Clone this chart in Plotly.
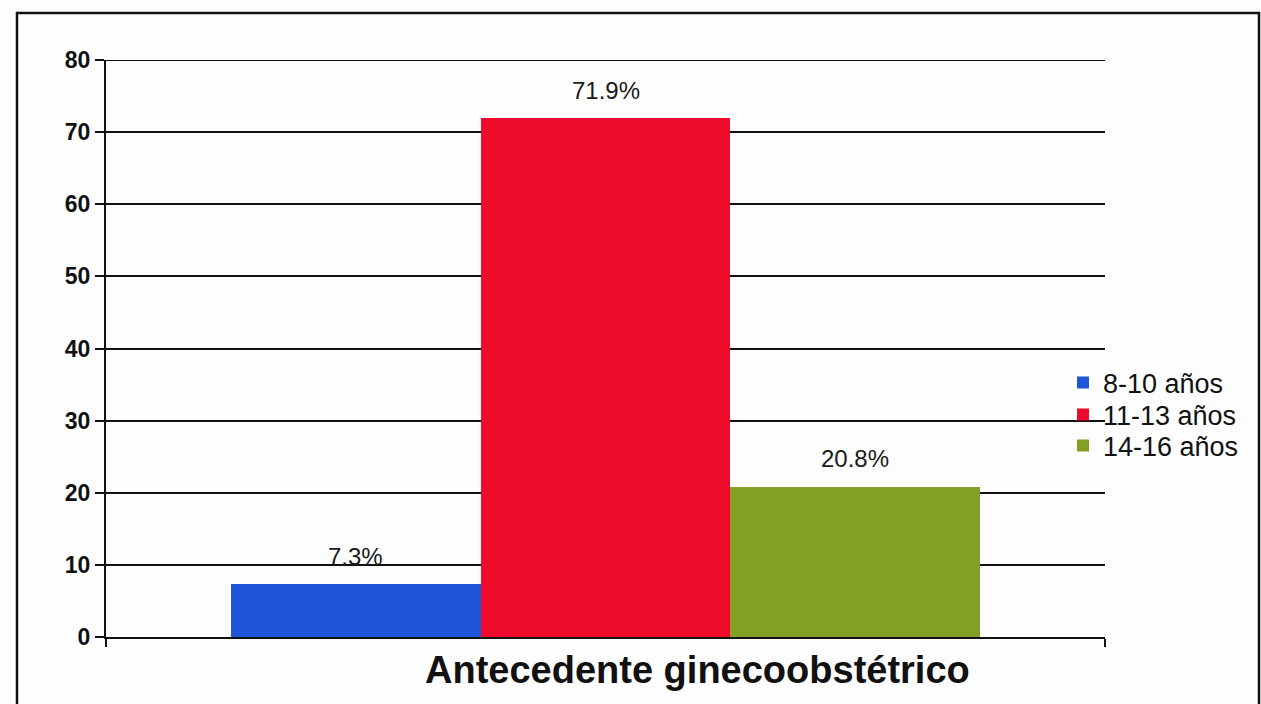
import plotly.graph_objects as go

# Age groups at menarche and their share (%)
grupos = ["8-10 años", "11-13 años", "14-16 años"]
porcentajes = [7.3, 71.9, 20.8]
colores = ["#1f56d8", "#ee0a2a", "#84a024"]
posiciones = [0, 1, 2]
ticks_y = [0, 10, 20, 30, 40, 50, 60, 70, 80]

W, H = 1261, 704
ML, MR, MT, MB = 106, 156, 60, 67
PW, PH = W - ML - MR, H - MT - MB


def px_to_paper_x(px):
    return (px - ML) / PW


def px_to_paper_y(py):
    return 1 - (py - MT) / PH


# one legend box per series so the entries can sit close together
legend_ids = ["legend", "legend2", "legend3"]
legend_rows = [383, 415, 446]

fig = go.Figure()
for g, v, c, p, lg in zip(grupos, porcentajes, colores, posiciones, legend_ids):
    fig.add_trace(go.Bar(
        x=[p], y=[v], name=g, width=1.0,
        marker=dict(color=c, line=dict(width=0)),
        showlegend=True, legend=lg,
    ))
    fig.add_annotation(
        x=p, y=v, xref="x", yref="y", text=f"{v}%", showarrow=False,
        yshift=28, font=dict(family="Liberation Sans", size=24, color="#1a1a1a"),
    )

legend_style = dict(
    xanchor="left", yanchor="middle",
    font=dict(family="Liberation Sans", size=27, color="#111111"),
    bgcolor="rgba(0,0,0,0)", itemwidth=30, borderwidth=0,
)
legends = {
    lg: dict(x=px_to_paper_x(1063), y=px_to_paper_y(row), **legend_style)
    for lg, row in zip(legend_ids, legend_rows)
}

# outer frame around the chart
fig.add_shape(
    type="rect", xref="paper", yref="paper",
    x0=px_to_paper_x(17), x1=px_to_paper_x(1259),
    y0=px_to_paper_y(712), y1=px_to_paper_y(13),
    line=dict(color="#111111", width=2.5), fillcolor="rgba(0,0,0,0)", layer="below",
)

# top gridline at the axis maximum
fig.add_shape(
    type="line", xref="paper", yref="y",
    x0=0, x1=1, y0=ticks_y[-1], y1=ticks_y[-1],
    line=dict(color="#111111", width=2), layer="below",
)

# x-axis title
fig.add_annotation(
    x=px_to_paper_x(697), y=px_to_paper_y(670), xref="paper", yref="paper",
    xanchor="center", yanchor="middle",
    text="<b>Antecedente ginecoobstétrico</b>", showarrow=False,
    font=dict(family="Liberation Sans", size=38, color="#111111"),
)

fig.update_layout(
    width=W, height=H,
    margin=dict(l=ML, r=MR, t=MT, b=MB, autoexpand=False),
    paper_bgcolor="#fdfdfd", plot_bgcolor="rgba(0,0,0,0)",
    barmode="overlay", bargap=0,
    showlegend=True,
    xaxis=dict(
        range=[-1, 3], tickvals=[-1, 3], ticktext=["", ""],
        ticks="outside", ticklen=8, tickwidth=2, tickcolor="#111111",
        showline=True, linecolor="#111111", linewidth=2,
        showgrid=False, zeroline=False, fixedrange=True,
    ),
    yaxis=dict(
        range=[0, 80], tickvals=ticks_y,
        ticks="outside", ticklen=9, tickwidth=2, tickcolor="#111111",
        showline=True, linecolor="#111111", linewidth=2,
        showgrid=True, gridcolor="#111111", gridwidth=2,
        zeroline=False,
        tickfont=dict(family="Liberation Sans", size=23, color="#111111", weight="bold"),
    ),
    **legends,
)

fig.write_html("out.html")
